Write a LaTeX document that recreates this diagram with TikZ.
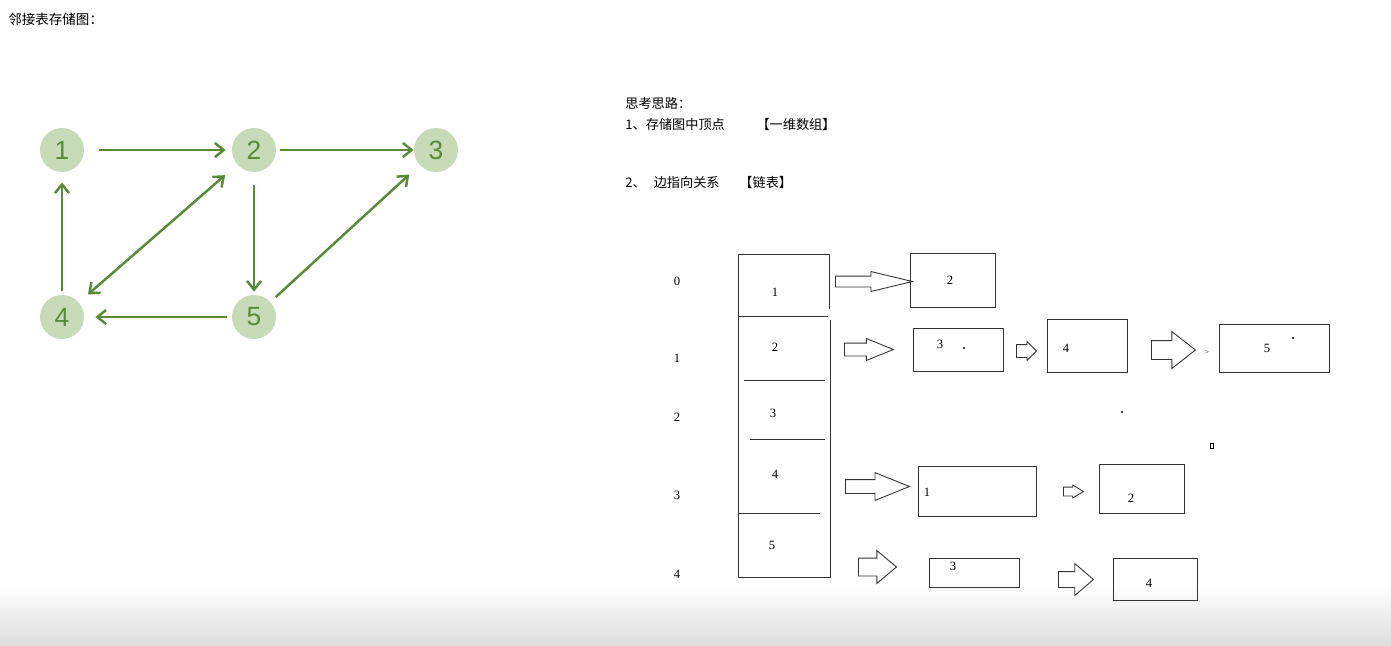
\documentclass[tikz,border=0pt]{standalone}
\usepackage{fontspec}
\setmainfont{Liberation Serif}
\setsansfont{Liberation Sans}
\newfontfamily\cjk{Noto Sans CJK SC}
\usepackage{xcolor}
\usetikzlibrary{arrows.meta,positioning,shapes.arrows}
\definecolor{leafgreen}{HTML}{5A8A38}
\definecolor{vertfill}{HTML}{C8DBB8}
\newcommand{\unitpx}{0.02cm}

\begin{document}
\begin{tikzpicture}[
  x=0.02cm,y=-0.02cm,
  vertex/.style={circle,fill=vertfill,minimum size=44*\unitpx,inner sep=0pt,
                 font=\sffamily\fontsize{15}{15}\selectfont,text=leafgreen},
  edge/.style={draw=leafgreen,line width=1.4pt,-{Straight Barb[length=5pt,width=8pt]}},
  note/.style={anchor=west,inner sep=0pt,font=\cjk\fontsize{7.5}{9}\selectfont},
  val/.style={inner sep=0pt,font=\fontsize{7.2}{9}\selectfont},
  listbox/.style={rectangle,draw=black!80,line width=0.5pt,inner sep=0pt},
  blockarrow/.style n args={4}{single arrow,draw=black!80,line width=0.5pt,
                 inner xsep=0pt,inner ysep=(#3/2)*\unitpx,
                 anchor=west,minimum height=#1*\unitpx,minimum width=#2*\unitpx,
                 single arrow head extend=((#2-#3)/2)*\unitpx,single arrow tip angle=#4},
  speck/.style={fill=black,circle,inner sep=0pt,minimum size=2.2*\unitpx}
]
  \useasboundingbox (0,0) rectangle (1391,645);
  \fill[top color=white,bottom color=black!13,draw=none] (0,585) rectangle (1391,645);

  % title
  \node[note,font=\cjk\fontsize{7.7}{9}\selectfont] (title) at (8,19) {邻接表存储图：};

  % the graph
  \node[vertex] (v1) at (62,150) {1};
  \node[vertex] (v2) at (254,150) {2};
  \node[vertex] (v3) at (436,150) {3};
  \node[vertex] (v4) at (62,317) {4};
  \node[vertex] (v5) at (254,317) {5};
  \draw[edge,shorten <=15*\unitpx,shorten >=6*\unitpx] (v1) -- (v2);
  \draw[edge,shorten <=4*\unitpx] (v2) -- (v3);
  \draw[edge,shorten <=4*\unitpx,shorten >=10*\unitpx] (v4) -- (v1);
  \draw[edge,{Straight Barb[length=5pt,width=8pt]}-{Straight Barb[length=5pt,width=8pt]},
        shorten <=16*\unitpx,shorten >=12*\unitpx] (v2) -- (v4);
  \draw[edge,shorten <=13*\unitpx,shorten >=3*\unitpx] (v2) -- (v5);
  \draw[edge,shorten <=5*\unitpx,shorten >=11*\unitpx] (v5) -- (v4);
  \draw[edge,shorten <=7*\unitpx,shorten >=14*\unitpx] (v5) -- (v3);

  % notes
  \node[note] (idea) at (625,103) {思考思路：};
  \node[note] (step1) at (625,124) {1、存储图中顶点\hspace{2.4em}【一维数组】};
  \node[note] (step2) at (625,182) {2、\hspace{0.6em}边指向关系\hspace{1.5em}【链表】};

  % indices
  \node[val] (i0) at (677,281) {0};
  \node[val] (i1) at (677,358) {1};
  \node[val] (i2) at (677,417) {2};
  \node[val] (i3) at (677,495) {3};
  \node[val] (i4) at (677,574) {4};

  % the array
  \draw[black!80,line width=0.5pt] (829,309) -- (829,254) -- (738,254) -- (738,577) -- (830,577) -- (830,320);
  \draw[black!80,line width=0.5pt] (738,316) -- (828,316);
  \draw[black!80,line width=0.5pt] (744,380) -- (825,380);
  \draw[black!80,line width=0.5pt] (750,439) -- (825,439);
  \draw[black!80,line width=0.5pt] (738,513) -- (820,513);
  \node[val] (c0) at (775,292) {1};
  \node[val] (c1) at (775,347) {2};
  \node[val] (c2) at (773,413) {3};
  \node[val] (c3) at (775,474) {4};
  \node[val] (c4) at (772,545) {5};

  % the lists
  \node[listbox,minimum width=85*\unitpx,minimum height=54*\unitpx] (n01) at (952.5,280) {};
  \node[val] at (950,280) {2};
  \node[listbox,minimum width=90*\unitpx,minimum height=43*\unitpx] (n11) at (958,349.5) {};
  \node[val] at (940,344) {3};
  \node[speck] at (964,348) {};
  \node[listbox,minimum width=80*\unitpx,minimum height=53*\unitpx] (n12) at (1087,345.5) {};
  \node[val] at (1066,348) {4};
  \node[val,font=\fontsize{4}{5}\selectfont] at (1207,352) {>};
  \node[listbox,minimum width=110*\unitpx,minimum height=48*\unitpx] (n13) at (1274,348) {};
  \node[val] at (1267,348) {5};
  \node[speck] at (1293,338) {};
  \node[speck] at (1122,412) {};
  \node[draw,inner sep=0pt,minimum width=3*\unitpx,minimum height=5*\unitpx,line width=0.4pt] at (1212,446) {};
  \node[listbox,minimum width=118*\unitpx,minimum height=50*\unitpx] (n31) at (977,491) {};
  \node[val] at (927,492) {1};
  \node[listbox,minimum width=85*\unitpx,minimum height=49*\unitpx] (n32) at (1141.5,488.5) {};
  \node[val] at (1131,498) {2};
  \node[listbox,minimum width=90*\unitpx,minimum height=29*\unitpx] (n41) at (974,572.5) {};
  \node[val] at (953,566) {3};
  \node[listbox,minimum width=84*\unitpx,minimum height=42*\unitpx] (n42) at (1155,579) {};
  \node[val] at (1149,583) {4};

  % block arrows
  \node[blockarrow={77}{19}{10}{27}] (a01) at (835,281.5) {};
  \node[blockarrow={49}{21}{12}{44}] (a11) at (844,349.5) {};
  \node[blockarrow={20}{18}{12}{90}] (a12) at (1016,351) {};
  \node[blockarrow={44}{36}{18}{76}] (a13) at (1151,350) {};
  \node[blockarrow={64}{27}{13}{44}] (a31) at (845,486.5) {};
  \node[blockarrow={20}{12}{8}{62}] (a32) at (1063,491.5) {};
  \node[blockarrow={38}{32}{17}{80}] (a41) at (858,567) {};
  \node[blockarrow={35}{31}{15}{81}] (a42) at (1058,579.5) {};
\end{tikzpicture}
\end{document}
